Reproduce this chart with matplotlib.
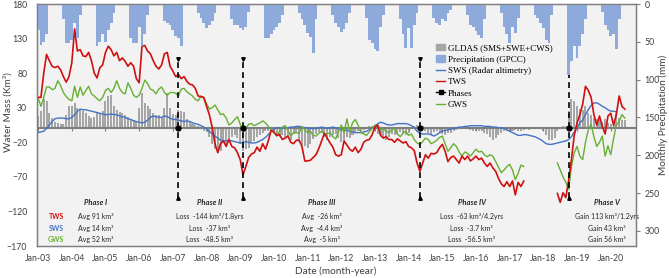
import numpy as np
import matplotlib.pyplot as plt
from matplotlib.lines import Line2D
from matplotlib.patches import Patch

nan = np.nan

# monthly values, Jan-2003 .. Jun-2020 (km3)
tws = [45, 45, 80, 107, 98, 90, 88, 90, 85, 75, 67, 75,
       95, 144, 112, 114, 105, 104, 110, 98, 80, 73, 88, 92,
       110, 119, 114, 105, 110, 98, 102, 97, 90, 95, 90, 72,
       66, 119, 120, 112, 108, 98, 90, 86, 92, 108, 110, 90,
       83, 75, 78, 72, 75, 68, 64, 63, 58, 47, 46, 45,
       32, 20, 2, -22, -35, -22, -18, -26, -16, -26, -28, -35,
       -45, -67, -55, -42, -37, -35, -27, -33, -22, -30, -18, -3,
       -5, -10, -9, -16, -14, -11, -20, -22, -17, -17, -26, -47,
       -47, -46, -42, -38, -29, -18, -7, -14, -21, -27, -38, -40,
       -38, -18, -24, -30, -33, -27, -35, -30, -20, -17, -16, -9,
       2, 5, -10, -14, -12, -16, -16, -20, -15, -18, -21, -19,
       -26, -28, -32, -50, -62, -50, -38, -43, -36, -37, -35, -28,
       -23, -33, -48, -42, -40, -45, -50, -40, -45, -40, -47, -44,
       -40, -45, -43, -50, -55, -50, -57, -62, -72, -80, -84, -77,
       -84, -76, -96, -78, -84, -76, nan, nan, nan, nan, nan, nan,
       nan, nan, nan, nan, nan, -94, -107, -93, -100, -75, -45, -10,
       8, 20, 35, 61, 55, 45, 20, 5, 18, 3, -8, 18,
       22, 5, 20, 47, 32, 28]

gws = [44, 32, 45, 60, 60, 56, 58, 69, 62, 52, 46, 42,
       40, 61, 45, 60, 48, 55, 61, 50, 47, 43, 40, 45,
       55, 58, 52, 58, 69, 58, 52, 50, 66, 58, 48, 45,
       48, 58, 70, 65, 57, 55, 50, 57, 60, 52, 48, 52,
       52, 51, 47, 57, 58, 53, 50, 47, 42, 40, 47, 44,
       36, 28, 30, 34, 27, 20, 21, 15, 5, 8, 13, 17,
       6, -5, 0, 6, 7, 4, 6, 8, 11, 8, 3, -3,
       -6, -11, -4, 2, 4, -3, -11, -6, -6, -7, 3, -2,
       -6, -4, -10, -11, -7, -4, -8, -8, -6, -12, -15, -5,
       5, -6, 14, -5, 8, 13, 5, -6, -8, -10, -5, 0,
       5, 4, -1, -1, -4, -6, -2, 0, -8, -12, -7, -4,
       -10, -8, -16, -21, -23, -19, -14, -16, -22, -20, -17, -13,
       -11, -22, -33, -28, -22, -26, -34, -40, -34, -36, -40, -35,
       -30, -34, -33, -38, -41, -38, -40, -48, -56, -64, -60, -55,
       -52, -60, -74, -65, -53, -55, nan, nan, nan, nan, nan, nan,
       nan, nan, nan, nan, nan, -50, -60, -70, -78, -88, -55, -35,
       -26, -40, -45, -20, -2, 6, -12, -26, -20, -11, -40, -25,
       -38, -15, 5, 10, 20, 15]

sws = [-6, -5, -4, 0, 5, 10, 14, 15, 15, 15, 14, 14,
       16, 20, 25, 28, 27, 27, 26, 25, 24, 23, 22, 21,
       20, 20, 21, 20, 20, 18, 17, 16, 14, 13, 11, 10,
       9, 8, 9, 12, 16, 18, 17, 16, 16, 18, 17, 15,
       13, 13, 12, 11, 10, 11, 10, 8, 7, 6, 4, 2,
       -1, -4, -8, -11, -14, -17, -18, -18, -17, -18, -19, -20,
       -21, -20, -19, -20, -21, -21, -20, -18, -16, -13, -9, -4,
       -1, 1, 1, 0, 1, 1, 2, 2, 3, 3, 2, 1,
       1, 0, 0, 0, 1, 2, 1, 0, 1, 2, 1, 0,
       -1, -2, -3, -4, -5, -6, -6, -6, -5, -4, -2, 1,
       3, 7, 9, 8, 6, 5, 5, 6, 7, 7, 7, 7,
       6, 4, 1, -4, -7, -8, -8, -8, -9, -11, -9, -6,
       -4, -3, -2, -1, 0, 1, 2, 2, 3, 3, 4, 4,
       4, 4, 4, 3, 3, 3, 2, 2, 1, 1, 0, -2,
       -4, -6, -8, -10, -10, -9, -9, -10, -11, -12, -14, -16,
       -19, -22, -23, -23, -22, -21, -20, -19, -18, -16, -12, -5,
       1, 8, 12, 20, 27, 33, 37, 37, 35, 32, 30, 27,
       25, 25, 24, nan, nan, nan]

gldas = [18, 25, 42, 40, 22, 15, 10, 8, 6, 6, 20, 32,
         32, 37, 30, 27, 25, 22, 18, 15, 16, 22, 23, 25,
         40, 47, 49, 32, 26, 24, 22, 20, 16, 14, 12, 10,
         30, 52, 37, 33, 28, 23, 20, 19, 17, 30, 52, 30,
         21, 20, 26, 25, 24, 14, 10, 7, 5, 3, 0, -3,
         -5, -12, -22, -30, -36, -33, -20, -24, -18, -12, -10, -14,
         -22, -32, -30, -28, -20, -18, -12, -10, -6, -4, -4, -3,
         -5, -8, -12, -10, -14, -12, -16, -8, -5, -20, -24, -26,
         -28, -22, -15, -8, -5, -6, -12, -16, -12, -10, -8, -14,
         -20, -16, -12, -14, -10, -6, -4, -3, -2, 2, 4, 3,
         -3, -8, -10, -14, -16, -12, -8, -10, -8, -5, -6, -10,
         -6, 2, 4, 5, 4, 3, -4, -6, -8, -5, -3, -6,
         -8, -10, -7, -6, -4, -2, 1, 2, 3, 2, -2, -3,
         -3, -4, -4, -6, -8, -12, -16, -14, -10, -6, -4, -3,
         -4, -3, -2, -3, -4, -2, -1, -2, -1, 1, 2, -1,
         -3, -10, -16, -16, -14, -4, 2, 3, 4, 25, 42, 40,
         32, 28, 26, 32, 22, 20, 15, 13, 12, 10, 14, 8,
         6, 8, 23, 15, 12, 12]

# monthly precipitation (mm)
precip = [34, 54, 50, 40, 0, 0, 0, 0, 0, 20, 52, 52,
          48, 25, 45, 15, 0, 0, 0, 0, 0, 55, 50, 40,
          50, 35, 25, 12, 0, 0, 0, 0, 0, 45, 52, 52,
          30, 55, 40, 15, 0, 0, 0, 0, 0, 22, 25, 28,
          35, 42, 45, 56, 0, 0, 0, 0, 0, 12, 18, 25,
          32, 28, 22, 12, 0, 0, 0, 0, 0, 20, 28, 28,
          32, 34, 30, 10, 0, 0, 0, 0, 0, 45, 45, 40,
          35, 30, 25, 15, 0, 0, 0, 0, 0, 12, 20, 28,
          38, 43, 65, 20, 0, 0, 0, 0, 0, 14, 25, 30,
          37, 33, 25, 12, 0, 0, 0, 0, 0, 18, 48, 52,
          60, 62, 30, 14, 0, 0, 0, 0, 0, 20, 40, 58,
          32, 58, 28, 12, 0, 0, 0, 0, 0, 18, 25, 28,
          20, 22, 12, 8, 0, 0, 0, 0, 0, 15, 28, 30,
          36, 41, 45, 20, 0, 0, 0, 0, 0, 12, 30, 40,
          52, 30, 38, 18, 0, 0, 0, 0, 0, 14, 18, 25,
          32, 48, 52, 15, 0, 0, 0, 0, 0, 94, 76, 56,
          72, 55, 40, 20, 0, 0, 0, 0, 0, 10, 28, 35,
          42, 40, 60, 20, 0, 0]

year_labels = ['Jan-%02d' % y for y in range(3, 21)]
phase_months = [50, 73, 136, 189]  # Mar-07, Feb-09, May-14, Oct-18

# phase summary text
phase_titles = ['Phase I', 'Phase II', 'Phase III', 'Phase IV', 'Phase V']
phase_x = [20.5, 61, 101, 154.5, 202.5]
phase_rows = [
    ['Avg 91 km³', 'Avg 14 km³', 'Avg 52 km³'],
    ['Loss  -144 km³/1.8yrs', 'Loss  -37 km³', 'Loss  -48.5 km³'],
    ['Avg  -26 km³', 'Avg  -4.4 km³', 'Avg  -5 km³'],
    ['Loss  -63 km³/4.2yrs', 'Loss  -3.7 km³', 'Loss  -56.5 km³'],
    ['Gain 113 km³/1.2yrs', 'Gain 43 km³', 'Gain 56 km³'],
]

c_tws = '#d01010'
c_sws = '#4472c4'
c_gws = '#66b032'
c_gld = '#a6a6a6'
c_pre = '#8eaadb'
sans = 'Lato'

m = np.arange(len(tws))

fig = plt.figure(figsize=(6.69, 2.78), dpi=100)
ax = fig.add_axes([37 / 669, 1 - 246 / 278, 599 / 669, 242 / 278])
ax.set_facecolor('#f2f2f2')

ax.bar(m, gldas, width=0.72, color=c_gld, zorder=2)
ax.axhline(0, color='#7f7f7f', lw=1.5, zorder=3)
ax.vlines(np.arange(0, 205, 12), -4, 0, color='#7f7f7f', lw=0.8, zorder=3)

ax.plot(m, sws, color=c_sws, lw=1.0, zorder=4)
ax.plot(m, gws, color=c_gws, lw=1.0, zorder=4)
ax.plot(m, tws, color=c_tws, lw=1.2, zorder=5)

for p in phase_months:
    ax.plot([p, p], [-100, 100], color='k', lw=1.2, ls=(0, (3.5, 2.5)), zorder=6)
    ax.plot(p, 100, marker='v', color='k', ms=2.5, zorder=6)
    ax.plot(p, -100, marker='^', color='k', ms=2.5, zorder=6)
    ax.plot(p, 0, marker='o', color='k', ms=3.5, zorder=7)

ax.set_xlim(-0.4, 213)
ax.set_ylim(-170, 180)
ax.set_yticks(np.arange(-170, 181, 50))
ax.set_xticks(np.arange(0, 205, 12))
ax.set_xticklabels(year_labels)
ax.tick_params(axis='x', length=0, pad=6, labelsize=6.3, labelcolor='#404040')
ax.tick_params(axis='y', length=0, pad=7, labelsize=6.3, labelcolor='#404040')
for lab in ax.get_xticklabels() + ax.get_yticklabels():
    lab.set_family(sans)
for s in ax.spines.values():
    s.set_color('#7f7f7f')
    s.set_linewidth(1.0)

fig.text(336 / 669, 1 - 271 / 278, 'Date (month-year)', ha='center', va='center',
         fontsize=7.2, family=sans, color='#404040')
fig.text(8 / 669, 1 - 112 / 278, 'Water Mass (Km³)', ha='center', va='center',
         rotation=90, fontsize=7.2, family=sans, color='#404040')
fig.text(663 / 669, 1 - 115 / 278, 'Monthly Precipitation (mm)', ha='center',
         va='center', rotation=90, fontsize=7.2, family=sans, color='#404040')

# phase text blocks
for t, x, rows in zip(phase_titles, phase_x, phase_rows):
    ax.text(x, -107, t, ha='center', va='center', fontsize=5.5, family=sans,
            weight='bold', style='italic', color='#262626', zorder=8)
    for k, r in enumerate(rows):
        ax.text(x, -128 - 16 * k, r, ha='center', va='center', fontsize=5,
                family=sans, color='#262626', zorder=8)
for k, (lab, c) in enumerate([('TWS', c_tws), ('SWS', c_sws), ('GWS', c_gws)]):
    ax.text(6.5, -128 - 16 * k, lab, ha='center', va='center', fontsize=5,
            family=sans, color=c, weight='bold', zorder=8)

ax2 = ax.twinx()
ax2.bar(m, precip, width=1.0, color=c_pre, zorder=2)
ax2.set_ylim(320, 0)
ax2.set_yticks(np.arange(0, 301, 50))
ax2.tick_params(axis='y', length=3, width=0.8, color='#7f7f7f', pad=3,
                labelsize=6.3, labelcolor='#404040')
for lab in ax2.get_yticklabels():
    lab.set_family(sans)
for s in ax2.spines.values():
    s.set_color('#7f7f7f')

handles = [Patch(color=c_gld), Patch(color=c_pre),
           Line2D([], [], color=c_sws, lw=1),
           Line2D([], [], color=c_tws, lw=1),
           Line2D([], [], color='k', lw=1, marker='s', ms=2.5),
           Line2D([], [], color=c_gws, lw=1)]
labels = ['GLDAS (SMS+SWE+CWS)', 'Precipitation (GPCC)', 'SWS (Radar altimetry)',
          'TWS', 'Phases', 'GWS']
ax2.legend(handles, labels, loc='upper left', bbox_to_anchor=(436 / 669, 1 - 44 / 278),
           bbox_transform=fig.transFigure, frameon=False, borderpad=0,
           borderaxespad=0, handlelength=1.0, handletextpad=0.3,
           labelspacing=0.33, prop={'family': 'Liberation Serif', 'size': 6.5})

fig.savefig('out.png', dpi=100)
